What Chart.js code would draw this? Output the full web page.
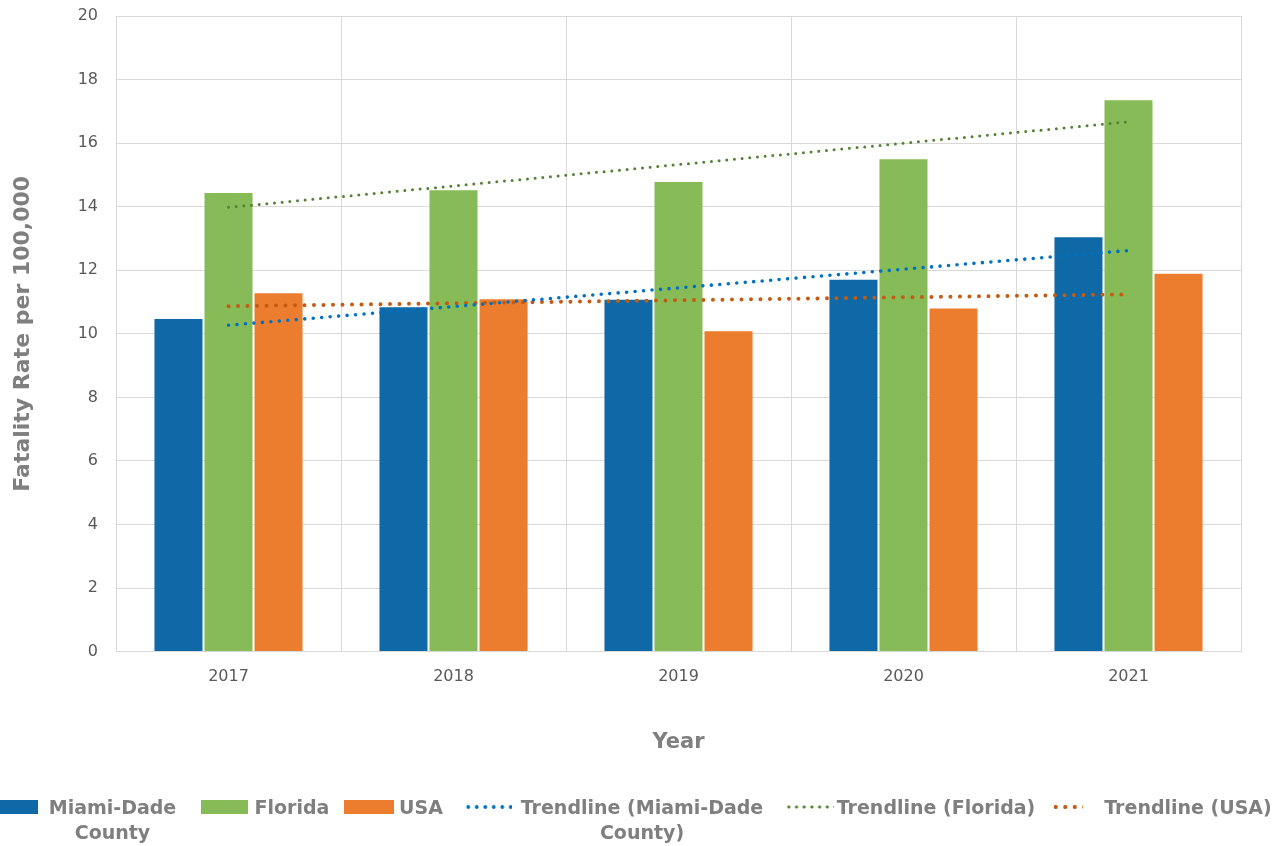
<!DOCTYPE html>
<html>
<head>
<meta charset="utf-8">
<script src="https://cdn.jsdelivr.net/npm/chart.js@4.4.1/dist/chart.umd.min.js"></script>
<style>
  html, body { margin: 0; padding: 0; background: #fff; }
  #wrap { position: relative; width: 1281px; height: 846px; }
  #myChart { position: absolute; left: 0; top: 0; }
  .lg { position: absolute; top: 795px; font: bold 19px "DejaVu Sans", sans-serif; color: #7f7f7f; line-height: 25px; text-align: center; }
  .sw { position: absolute; top: 800px; height: 14px; }
  .dots { position: absolute; top: 804px; height: 6px; }
</style>
</head>
<body>
<div id="wrap">
  <canvas id="myChart" width="1281" height="846"></canvas>
  <div id="legend"></div>
</div>
<script>
var years = ["2017", "2018", "2019", "2020", "2021"];
var miamiDade = [10.5, 10.87, 11.1, 11.73, 13.07];
var florida = [14.46, 14.55, 14.81, 15.52, 17.38];
var usa = [11.31, 11.12, 10.11, 10.83, 11.92];
// linear trend values at first and last year
var trendMiamiDade = [10.27, null, null, null, 12.62];
var trendFlorida = [13.98, null, null, null, 16.67];
var trendUsa = [10.87, null, null, null, 11.24];
var yTicks = [0, 2, 4, 6, 8, 10, 12, 14, 16, 18, 20];

var gray = '#595959';
var titleGray = '#7f7f7f';

function bar(label, values, color) {
    return {
        type: 'bar',
        label: label,
        data: values,
        backgroundColor: color,
        borderColor: 'rgba(255,255,255,0.2)',
        borderWidth: 1,
        order: 2
    };
}

function trend(label, values, color, width, gap) {
    return {
        type: 'line',
        label: label,
        data: values,
        borderColor: color,
        borderWidth: width,
        borderDash: [0, gap],
        borderCapStyle: 'round',
        pointRadius: 0,
        spanGaps: true,
        fill: false,
        order: 1
    };
}

var ctx = document.getElementById('myChart');
var myChart = new Chart(ctx, {
    data: {
        labels: years,
        datasets: [
            bar('Miami-Dade County', miamiDade, '#0e69a6'),
            bar('Florida', florida, '#87bb58'),
            bar('USA', usa, '#ed7d2e'),
            trend('Trendline (Miami-Dade County)', trendMiamiDade, '#0070c0', 3.6, 8.5),
            trend('Trendline (Florida)', trendFlorida, '#548235', 3, 7.7),
            trend('Trendline (USA)', trendUsa, '#c55a11', 4, 9.5)
        ]
    },
    options: {
        responsive: false,
        animation: false,
        layout: { padding: { left: 10, right: 40, top: 16, bottom: 91 } },
        datasets: { bar: { categoryPercentage: 0.667, barPercentage: 1 } },
        plugins: { legend: { display: false }, tooltip: { enabled: false } },
        scales: {
            x: {
                grid: { color: '#d9d9d9', drawTicks: false, offset: true },
                border: { color: '#d9d9d9' },
                ticks: { color: gray, padding: 16, font: { family: 'DejaVu Sans', size: 16 } },
                title: {
                    display: true, text: 'Year', color: titleGray,
                    font: { family: 'DejaVu Sans', size: 21, weight: 'bold' },
                    padding: { top: 27, bottom: 0 }
                }
            },
            y: {
                min: 0, max: 20,
                afterBuildTicks: function (scale) {
                    scale.ticks = yTicks.map(function (v) { return { value: v }; });
                },
                afterFit: function (scale) {
                    scale.width = 106;
                    scale.paddingTop = 0;
                    scale.paddingBottom = 0;
                },
                grid: { color: '#d9d9d9', drawTicks: false },
                border: { color: '#d9d9d9' },
                ticks: { color: gray, padding: 18, font: { family: 'DejaVu Sans', size: 16 } },
                title: {
                    display: true, text: 'Fatality Rate per 100,000', color: titleGray,
                    font: { family: 'DejaVu Sans', size: 22, weight: 'bold' },
                    padding: { top: 0, bottom: 0 }
                }
            }
        }
    }
});

// legend laid out in a single row under the chart
var legendItems = [
    { ds: 0, kind: 'box', sx: 0, sw: 38, tx: 40, tw: 145 },
    { ds: 1, kind: 'box', sx: 201, sw: 47, tx: 252, tw: 80 },
    { ds: 2, kind: 'box', sx: 344, sw: 50, tx: 398, tw: 46 },
    { ds: 3, kind: 'dots', sx: 464, sw: 48, tx: 512, tw: 260 },
    { ds: 4, kind: 'dots', sx: 785, sw: 49, tx: 834, tw: 204 },
    { ds: 5, kind: 'dots', sx: 1051, sw: 32, tx: 1098, tw: 180 }
];
var legendEl = document.getElementById('legend');
legendItems.forEach(function (item) {
    var ds = myChart.data.datasets[item.ds];
    var s = document.createElement('div');
    s.style.left = item.sx + 'px';
    s.style.width = item.sw + 'px';
    if (item.kind === 'box') {
        s.className = 'sw';
        s.style.background = ds.backgroundColor;
    } else {
        var g = ds.borderDash[1];
        var r = ds.borderWidth / 2;
        s.className = 'dots';
        s.style.backgroundImage = 'radial-gradient(circle, ' + ds.borderColor + ' ' + (r - 0.3) + 'px, transparent ' + (r + 0.4) + 'px)';
        s.style.backgroundSize = g + 'px 6px';
    }
    legendEl.appendChild(s);
    var t = document.createElement('div');
    t.className = 'lg';
    t.style.left = item.tx + 'px';
    t.style.width = item.tw + 'px';
    t.textContent = ds.label;
    legendEl.appendChild(t);
});
</script>
</body>
</html>
